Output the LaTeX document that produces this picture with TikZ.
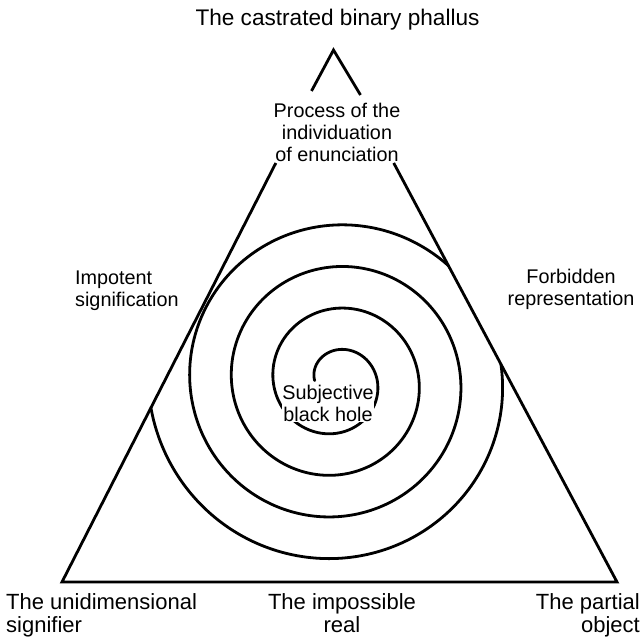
\documentclass[tikz,border=0pt]{standalone}
\usepackage{fontspec}
\setmainfont{Liberation Sans}
\usetikzlibrary{calc}
\begin{document}
\begin{tikzpicture}[x=1pt,y=-1pt,
  edge/.style={line width=2.8pt, line join=miter},
  spiralline/.style={line width=2.8pt, line cap=round},
  biglabel/.style={font=\fontsize{22}{23}\selectfont, inner sep=0pt, anchor=base},
  smalllabel/.style={font=\fontsize{19.8}{22}\selectfont, inner sep=0pt, anchor=base},
]
\useasboundingbox (0,0) rectangle (644,644);

% corners of the triangle
\coordinate (A) at (333.5,50);
\coordinate (B) at (62,582);
\coordinate (C) at (617,582);
% the apex stroke and the lower part, interrupted by the upper label
\coordinate (capL) at (311.5,91);
\coordinate (capR) at (360.5,95);
\coordinate (lowL) at ($(A)!0.2124!(B)$);
\coordinate (lowR) at ($(A)!0.2124!(C)$);

\draw[edge] (capL) -- (A) -- (capR);
\draw[edge] (lowL) -- (B) -- (C) -- (lowR);

% Archimedean spiral, kept inside the triangle
\begin{scope}
  \clip (A) -- (B) -- (C) -- cycle;
  \draw[spiralline] plot[domain=-88:1344, samples=500, smooth, variable=\t]
    ({335.7 + (31.25 + 0.115833*\t)*sin(\t)}, {381.3 - (31.25 + 0.115833*\t)*cos(\t)});
\end{scope}

% labels (multi-line nodes are placed by the baseline of their last line)
\node[biglabel, font=\fontsize{22.6}{23}\selectfont] (top) at (337.5,26) {The castrated binary phallus};
\node[smalllabel, align=center] (proc) at (337,162) {Process of the\\individuation\\of enunciation};
\node[smalllabel, align=left, anchor=base west] (impo) at (75,306) {Impotent\\signification};
\node[smalllabel, align=center] (forb) at (571,305) {Forbidden\\representation};
\node[smalllabel, align=center, fill=white, inner sep=0.5pt] (hole) at (328,421) {Subjective\\black hole};
\node[biglabel, align=left, anchor=base west] (unid) at (6,632) {The unidimensional\\signifier};
\node[biglabel, align=center] (impr) at (342,632) {The impossible\\real};
\node[biglabel, align=right, anchor=base east] (part) at (640,632) {The partial\\object};
\end{tikzpicture}
\end{document}
